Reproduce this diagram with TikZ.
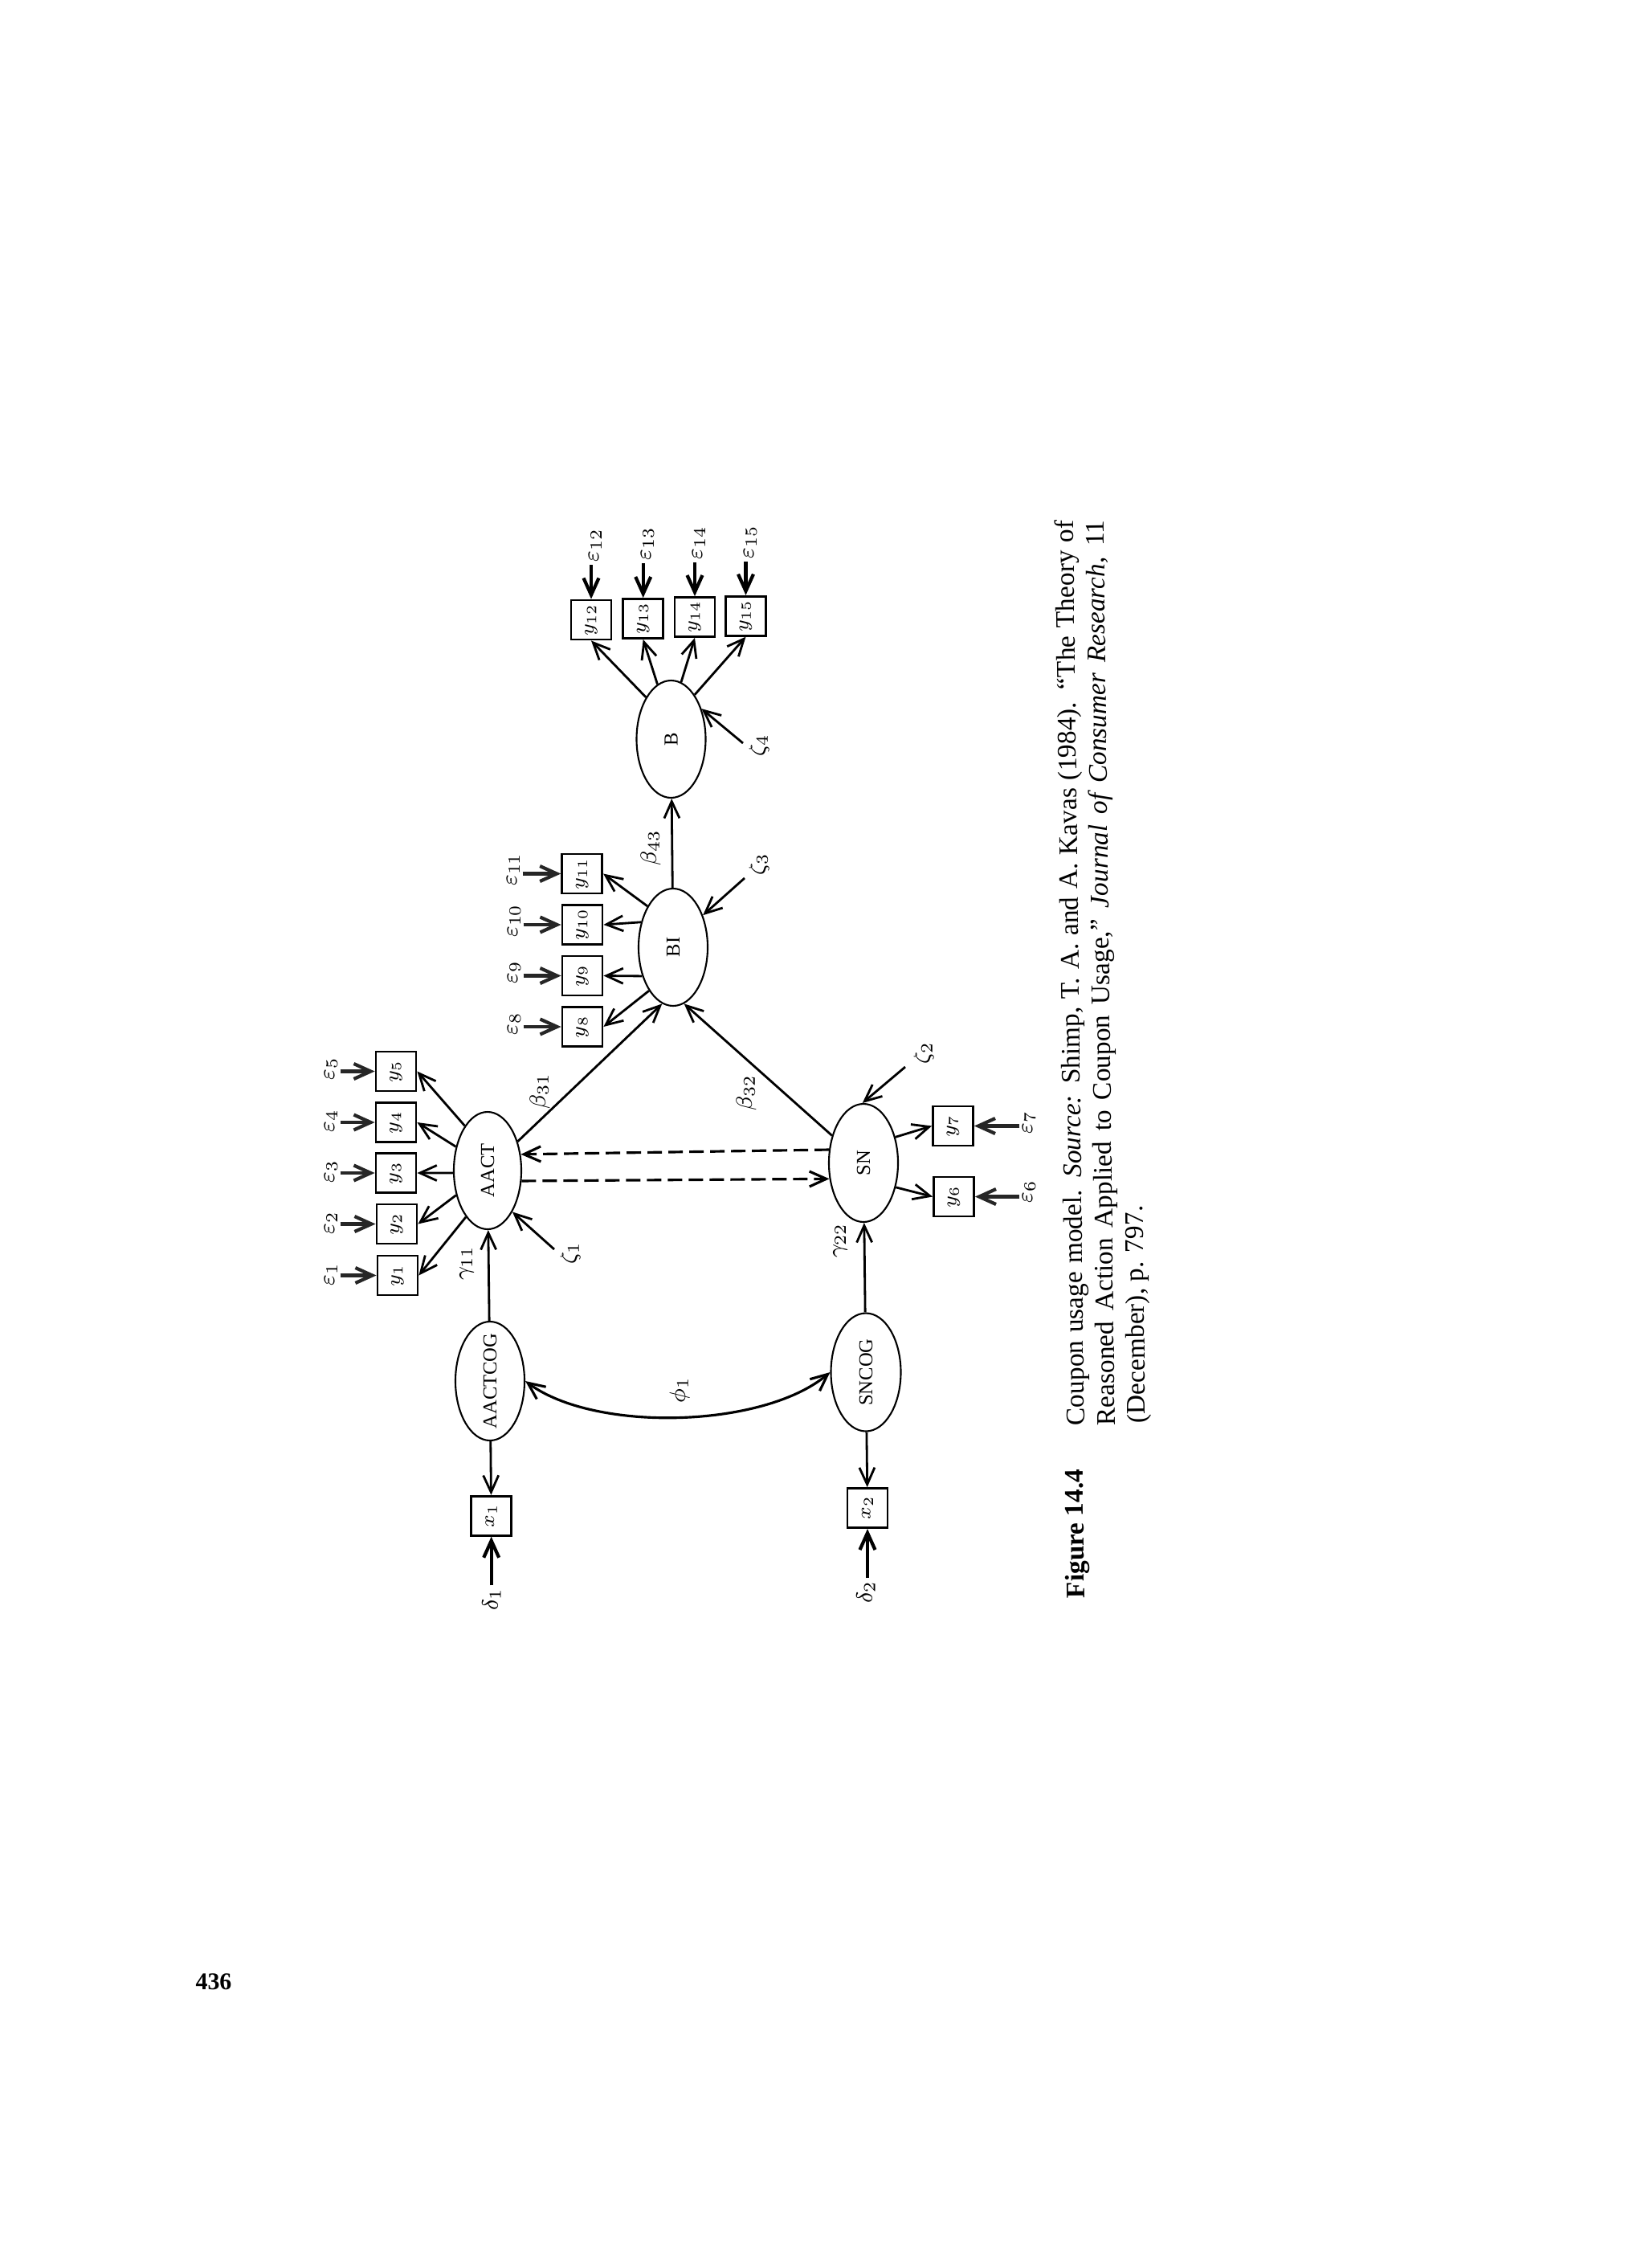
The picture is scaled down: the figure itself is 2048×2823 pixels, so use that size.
\documentclass[tikz,border=0pt]{standalone}
\usepackage{fontspec}
\setmainfont{Liberation Serif}
\usetikzlibrary{arrows.meta,shapes.geometric}
\newcommand{\rtext}[1]{\rotatebox{90}{#1}}
\begin{document}
\begin{tikzpicture}[x=0.1mm,y=-0.1mm,
  lat/.style={draw,ellipse,line width=0.6pt,inner sep=-0.8mm,font=\fontsize{7}{8}\selectfont},
  obs/.style={draw,rectangle,line width=0.8pt,minimum width=5mm,minimum height=4.9mm,inner sep=0pt,font=\fontsize{7.5}{9}\selectfont},
  lbl/.style={inner sep=0.3mm,font=\fontsize{8.5}{10}\selectfont},
  arr/.style={-{Straight Barb[length=2.1mm,width=1.9mm]},line width=0.8pt},
  errarr/.style={arr,line width=1.2pt,black!85},
  dasharr/.style={arr,dash pattern=on 1.8mm off 0.8mm,line width=0.9pt},
  dbl/.style={{Straight Barb[length=2.1mm,width=1.9mm]}-{Straight Barb[length=2.1mm,width=1.9mm]},line width=0.9pt},
  capt/.style={rotate=90.7,anchor=base west,inner sep=0pt,font=\fontsize{9.5}{11}\selectfont}]
\useasboundingbox (0,0) rectangle (2048,2823);
\fill[white] (0,0) rectangle (2048,2823);

% latent variables
\node[lat,minimum width=8.4mm,minimum height=14.6mm] (AACT) at (607,1457) {\rtext{AACT}};
\node[lat,minimum width=8.6mm,minimum height=14.8mm] (AACTCOG) at (610,1719) {\rtext{AACTCOG}};
\node[lat,minimum width=8.6mm,minimum height=14.7mm] (SN) at (1075,1447.5) {\rtext{SN}};
\node[lat,minimum width=8.7mm,minimum height=14.7mm] (SNCOG) at (1078,1708) {\rtext{SNCOG}};
\node[lat,minimum width=8.6mm,minimum height=14.6mm] (BI) at (838,1179) {\rtext{BI}};
\node[lat,minimum width=8.6mm,minimum height=14.6mm] (B) at (835.5,920) {\rtext{B}};

% observed variables
\node[obs] (y1) at (495,1587.5) {\rtext{$y_1$}};
\node[obs] (y2) at (494,1523.5) {\rtext{$y_2$}};
\node[obs] (y3) at (493,1460) {\rtext{$y_3$}};
\node[obs] (y4) at (493,1397) {\rtext{$y_4$}};
\node[obs] (y5) at (493,1333.5) {\rtext{$y_5$}};
\node[obs] (y6) at (1187.5,1489.5) {\rtext{$y_6$}};
\node[obs] (y7) at (1186.5,1401.5) {\rtext{$y_7$}};
\node[obs] (y8) at (725,1278) {\rtext{$y_8$}};
\node[obs] (y9) at (725,1214.5) {\rtext{$y_9$}};
\node[obs] (y10) at (725,1151) {\rtext{$y_{10}$}};
\node[obs] (y11) at (724.7,1087.5) {\rtext{$y_{11}$}};
\node[obs] (y12) at (736,771.5) {\rtext{$y_{12}$}};
\node[obs] (y13) at (800.7,770) {\rtext{$y_{13}$}};
\node[obs] (y14) at (865,768) {\rtext{$y_{14}$}};
\node[obs] (y15) at (928.5,766.7) {\rtext{$y_{15}$}};
\node[obs] (x1) at (611.7,1886.7) {\rtext{$x_1$}};
\node[obs] (x2) at (1080,1877) {\rtext{$x_2$}};

% error labels
\node[lbl] (e1) at (412,1586) {\rtext{$\varepsilon_1$}};
\node[lbl] (e2) at (412,1522) {\rtext{$\varepsilon_2$}};
\node[lbl] (e3) at (412,1458) {\rtext{$\varepsilon_3$}};
\node[lbl] (e4) at (412,1395) {\rtext{$\varepsilon_4$}};
\node[lbl] (e5) at (412,1330) {\rtext{$\varepsilon_5$}};
\node[lbl] (e6) at (1281,1483) {\rtext{$\varepsilon_6$}};
\node[lbl] (e7) at (1281,1397) {\rtext{$\varepsilon_7$}};
\node[lbl] (e8) at (640,1274) {\rtext{$\varepsilon_8$}};
\node[lbl] (e9) at (640,1210) {\rtext{$\varepsilon_9$}};
\node[lbl] (e10) at (640,1146) {\rtext{$\varepsilon_{10}$}};
\node[lbl] (e11) at (639,1082) {\rtext{$\varepsilon_{11}$}};
\node[lbl] (e12) at (741,679) {\rtext{$\varepsilon_{12}$}};
\node[lbl] (e13) at (806,677) {\rtext{$\varepsilon_{13}$}};
\node[lbl] (e14) at (870,676) {\rtext{$\varepsilon_{14}$}};
\node[lbl] (e15) at (934,675) {\rtext{$\varepsilon_{15}$}};
\node[lbl] (d1) at (612,1991) {\rtext{$\delta_1$}};
\node[lbl] (d2) at (1078,1982) {\rtext{$\delta_2$}};

% path labels
\node[lbl] (g11) at (581,1572) {\rtext{$\gamma_{11}$}};
\node[lbl] (g22) at (1046,1544) {\rtext{$\gamma_{22}$}};
\node[lbl] (z1) at (710,1560) {\rtext{$\zeta_1$}};
\node[lbl] (z2) at (1150,1311) {\rtext{$\zeta_2$}};
\node[lbl] (z3) at (945,1076) {\rtext{$\zeta_3$}};
\node[lbl] (z4) at (945,928) {\rtext{$\zeta_4$}};
\node[lbl] (b31) at (672,1358) {\rtext{$\beta_{31}$}};
\node[lbl] (b32) at (929,1360) {\rtext{$\beta_{32}$}};
\node[lbl] (b43) at (810,1055) {\rtext{$\beta_{43}$}};
\node[lbl] (phi1) at (846,1730) {\rtext{$\phi_1$}};

\coordinate (z1t) at (690,1555);
\coordinate (z2t) at (1127,1328);
\coordinate (z3t) at (927,1093);
\coordinate (z4t) at (925,925);

% structural paths
\draw[arr] (AACTCOG) -- (AACT);
\draw[arr] (SNCOG) -- (SN);
\draw[arr] (AACTCOG) -- (x1);
\draw[arr] (SNCOG) -- (x2);
\draw[arr] (BI) -- (B);
\draw[arr] (AACT.44.5) -- (BI.259);
\draw[arr] (SN.139.2) -- (BI.281.6);
\draw[dasharr] (SN.159.8) -- (AACT.26.3);
\draw[dasharr] (AACT.-17.5) -- (SN.205.2);
\draw[dbl] (AACTCOG.east) .. controls (740,1783) and (950,1778) .. (SNCOG.west);

% disturbances
\draw[arr] (z1t) -- (AACT.-59.5);
\draw[arr] (z2t) -- (SN.91.5);
\draw[arr] (z3t) -- (BI.47);
\draw[arr] (z4t) -- (B.45.4);

% loadings
\draw[arr] (AACT.245) -- (y1.east);
\draw[arr] (AACT.218.5) -- (y2.east);
\draw[arr] (AACT.184) -- (y3.east);
\draw[arr] (AACT.143.1) -- (y4.east);
\draw[arr] (AACT.117.8) -- (y5.east);
\draw[arr] (SN.-37) -- (y6.west);
\draw[arr] (SN.39) -- (y7.west);
\draw[arr] (BI.241.9) -- (y8.east);
\draw[arr] (BI.223.4) -- (y9.east);
\draw[arr] (BI.142.8) -- (y10.east);
\draw[arr] (BI.122.4) -- (y11.east);
\draw[arr] (B.121.2) -- (y12.south);
\draw[arr] (B.104) -- (y13.south);
\draw[arr] (B.80.2) -- (y14.south);
\draw[arr] (B.62.6) -- (y15.south);

% measurement errors
\foreach \i in {1,...,5} \draw[errarr] (e\i.east |- y\i) -- (y\i.west);
\foreach \i in {8,...,11} \draw[errarr] (e\i.east |- y\i) -- (y\i.west);
\foreach \i in {6,7} \draw[errarr] (e\i.west |- y\i) -- (y\i.east);
\foreach \i in {12,...,15} \draw[errarr,black] (y\i |- e\i.south) -- (y\i.north);
\draw[errarr,black] (x1 |- d1.north) -- (x1.south);
\draw[errarr,black] (x2 |- d2.north) -- (x2.south);

% caption
\node[capt] (fig) at (1350,1990) {\textbf{Figure 14.4}};
\node[capt] (cap1) at (1350,1775) {\makebox[112.7mm][s]{Coupon usage model. \textit{Source:} Shimp, T. A. and A. Kavas (1984). “The Theory of}};
\node[capt] (cap2) at (1388,1775) {\makebox[112.7mm][s]{Reasoned Action Applied to Coupon Usage,” \textit{Journal of Consumer Research,} 11}};
\node[capt] (cap3) at (1426,1772) {(December), p. 797.};

% page number
\node[font=\fontsize{8.5}{10}\selectfont\bfseries] (pg) at (266,2467) {436};
\end{tikzpicture}
\end{document}
